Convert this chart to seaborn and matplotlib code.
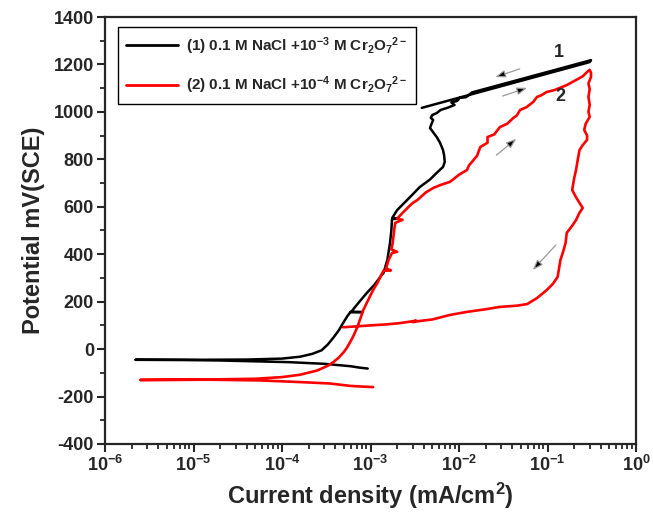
import matplotlib
matplotlib.use("Agg")
import matplotlib.pyplot as plt
from matplotlib.ticker import MultipleLocator, LogLocator, NullFormatter
import pandas as pd
import seaborn as sns

# curve (1): 0.1 M NaCl + 1e-3 M dichromate (cathodic -> anodic -> reverse)
black_i = [9.3e-4, 7.5e-4, 5.9e-4, 3e-4, 1.2e-4, 5.6e-5, 2e-5, 8e-6, 2.2e-6,
           1e-5, 4e-5, 1e-4, 1.6e-4, 2.2e-4, 2.8e-4, 3.3e-4, 3.8e-4, 4.4e-4,
           4.9e-4, 5.5e-4, 5.9e-4, 8.2e-4, 6.0e-4, 6.2e-4, 7.5e-4, 9.1e-4,
           1.1e-3, 1.29e-3, 1.33e-3, 1.4e-3, 1.55e-3, 1.66e-3, 1.72e-3,
           1.75e-3, 2.1e-3, 1.76e-3, 2.0e-3, 2.8e-3, 3.6e-3, 4.7e-3, 5.6e-3,
           6.6e-3, 6.9e-3, 6.8e-3, 6.6e-3, 6.1e-3, 5.6e-3, 4.7e-3, 4.9e-3,
           5.1e-3, 4.8e-3, 5.0e-3, 5.6e-3, 6.2e-3, 7.5e-3, 8.9e-3, 8.2e-3,
           9.5e-3, 1.02e-2, 1.2e-2, 1.4e-2, 0.31, 0.30, 3.8e-3]
black_E = [-82, -78, -72, -62, -55, -52, -48, -46, -45,
           -45, -44, -40, -32, -20, -5, 20, 48, 80,
           110, 140, 155, 156, 158, 162, 200, 237,
           270, 304, 312, 320, 376, 447, 500,
           548, 550, 553, 586, 641, 683, 715, 743,
           768, 789, 815, 839, 870, 894, 932, 950,
           966, 975, 987, 995, 1008, 1018, 1029, 1040,
           1046, 1059, 1062, 1082, 1218, 1210, 1017]

# curve (2): 0.1 M NaCl + 1e-4 M dichromate
red_i = [1.07e-3, 8e-4, 5.9e-4, 3.5e-4, 1.6e-4, 5.6e-5, 1.5e-5, 2.5e-6,
         1e-5, 5e-5, 1e-4, 1.6e-4, 2.5e-4, 3.3e-4, 3.8e-4, 4.4e-4, 5e-4,
         5.4e-4, 6.0e-4, 6.5e-4, 7.1e-4, 7.7e-4, 8.3e-4, 9.5e-4, 1.07e-3,
         1.2e-3, 1.29e-3, 1.4e-3, 1.7e-3, 1.5e-3, 1.6e-3, 1.75e-3, 2.0e-3,
         1.72e-3, 1.78e-3, 1.85e-3, 1.9e-3, 2.3e-3, 2.0e-3, 2.3e-3, 2.7e-3,
         3.0e-3, 3.4e-3, 4.2e-3, 5.1e-3, 6.2e-3, 7.9e-3, 1.0e-2, 1.23e-2,
         1.3e-2, 1.4e-2, 1.6e-2, 1.74e-2, 2.1e-2, 2.1e-2, 2.5e-2, 2.9e-2,
         3.5e-2, 4.1e-2, 4.5e-2, 4.9e-2, 5.8e-2, 6.9e-2, 7.6e-2, 8.5e-2,
         9.8e-2, 0.12, 0.165, 0.2, 0.25, 0.28, 0.30,
         0.31, 0.31, 0.29, 0.30, 0.29, 0.30, 0.29, 0.30, 0.27, 0.26, 0.28,
         0.28, 0.25, 0.23, 0.22, 0.21, 0.20, 0.19, 0.21, 0.25, 0.23, 0.21,
         0.19, 0.165, 0.16, 0.15, 0.14, 0.135, 0.13, 0.115, 0.098, 0.076,
         0.059, 0.045, 0.029, 0.02, 0.0123, 7.9e-3, 5e-3, 3.5e-3, 3.0e-3,
         3.3e-3, 2.2e-3, 1.5e-3, 1e-3, 7e-4, 4.9e-4]
red_E = [-160, -158, -155, -145, -139, -132, -129, -130,
         -129, -125, -118, -108, -90, -70, -55, -35, -12,
         5, 35, 60, 93, 130, 165, 210, 249,
         280, 304, 330, 332, 340, 376, 405, 410,
         420, 447, 500, 532, 545, 550, 574, 600,
         616, 629, 660, 679, 692, 705, 735, 755,
         775, 789, 815, 852, 870, 894, 905, 936,
         950, 974, 985, 1008, 1020, 1042, 1063, 1070,
         1084, 1092, 1113, 1130, 1150, 1168, 1177,
         1165, 1147, 1120, 1095, 1063, 1030, 1000, 979, 950, 924, 900,
         882, 860, 839, 800, 755, 720, 671, 640, 595, 575, 544,
         520, 490, 447, 410, 376, 340, 304, 275, 249, 215,
         190, 183, 178, 168, 157, 144, 125, 118, 114,
         120, 110, 104, 100, 96, 92]

labels = [r"(1) 0.1 M NaCl +10$^{-3}$ M Cr$_2$O$_7$$^{2-}$",
          r"(2) 0.1 M NaCl +10$^{-4}$ M Cr$_2$O$_7$$^{2-}$"]

x_ticks = [1e-6, 1e-5, 1e-4, 1e-3, 1e-2, 1e-1, 1e0]
x_tick_labels = [r"$10^{-6}$", r"$10^{-5}$", r"$10^{-4}$", r"$10^{-3}$",
                 r"$10^{-2}$", r"$10^{-1}$", r"$10^{0}$"]
y_ticks = [-400, -200, 0, 200, 400, 600, 800, 1000, 1200, 1400]

# scan direction arrows (start, end) and curve numbers
arrows = [((0.052, 1185), (0.024, 1143)),
          ((0.029, 1063), (0.063, 1105)),
          ((0.025, 810), (0.047, 894)),
          ((0.13, 447), (0.065, 325))]
curve_tags = [("1", 0.135, 1250), ("2", 0.138, 1063)]

sns.set_style("ticks")
plt.rcParams["font.family"] = ["Liberation Sans", "DejaVu Sans"]
plt.rcParams["font.weight"] = "bold"
plt.rcParams["axes.unicode_minus"] = False
plt.rcParams["mathtext.fontset"] = "custom"
plt.rcParams["mathtext.rm"] = "Liberation Sans:bold"
plt.rcParams["mathtext.it"] = "Liberation Sans:bold"
plt.rcParams["mathtext.bf"] = "Liberation Sans:bold"
plt.rcParams["mathtext.default"] = "rm"

fig = plt.figure(figsize=(6.53, 5.21), dpi=100)
ax = fig.add_axes([105 / 653, 1 - 444 / 521, 531 / 653, 427 / 521])
ax.set_xscale("log")

df1 = pd.DataFrame({"i": black_i, "E": black_E})
df2 = pd.DataFrame({"i": red_i, "E": red_E})
sns.lineplot(data=df1, x="i", y="E", sort=False, estimator=None,
             color="black", lw=1.8, ax=ax, label=labels[0])
sns.lineplot(data=df2, x="i", y="E", sort=False, estimator=None,
             color="#ff0000", lw=1.9, ax=ax, label=labels[1])

for (x0, y0), (x1, y1) in arrows:
    ax.annotate("", xy=(x1, y1), xytext=(x0, y0),
                arrowprops=dict(arrowstyle="-|>,head_length=0.6,head_width=0.22",
                                fc="black", ec="0.6", lw=0.9))
for txt, tx, ty in curve_tags:
    ax.text(tx, ty, txt, fontsize=13, fontweight="bold", ha="center", va="center")

ax.set_xlim(1e-6, 1)
ax.set_ylim(-400, 1400)
ax.set_xticks(x_ticks)
ax.set_xticklabels(x_tick_labels)
ax.xaxis.set_minor_locator(LogLocator(base=10, subs=range(2, 10), numticks=20))
ax.xaxis.set_minor_formatter(NullFormatter())
ax.set_yticks(y_ticks)
ax.yaxis.set_minor_locator(MultipleLocator(100))

ax.tick_params(which="major", direction="out", length=6, width=1.5,
               labelsize=13, pad=2)
ax.tick_params(which="minor", direction="out", length=3.5, width=1.3)
for sp in ax.spines.values():
    sp.set_linewidth(1.6)
    sp.set_visible(True)

ax.set_xlabel(r"Current density (mA/cm$^2$)", fontsize=17, fontweight="bold",
              labelpad=4)
ax.set_ylabel("Potential mV(SCE)", fontsize=17, fontweight="bold", labelpad=6)

leg = ax.legend(loc="upper left", bbox_to_anchor=(0.024, 0.977), borderaxespad=0,
                fontsize=11, handlelength=3.4, fancybox=False, framealpha=1,
                edgecolor="black", borderpad=0.55, labelspacing=1.15,
                handletextpad=0.5)
leg.get_frame().set_linewidth(1.0)
for line in leg.get_lines():
    line.set_linewidth(2.0)

fig.savefig("out.png", dpi=100)
